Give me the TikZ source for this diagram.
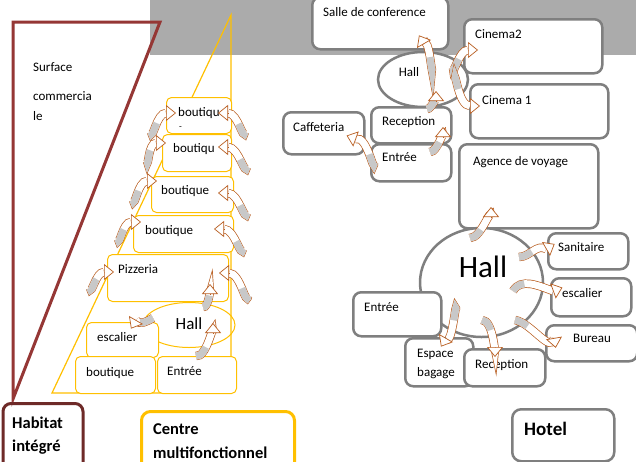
\documentclass[tikz,border=0pt]{standalone}
\usepackage{fontspec}
\setmainfont{Carlito}
\usetikzlibrary{arrows.meta,shapes.geometric}
\definecolor{ylw}{HTML}{FFC000}
\definecolor{dred}{HTML}{953735}
\definecolor{dredbox}{HTML}{6E2A28}
\definecolor{gbord}{HTML}{7F7F7F}
\definecolor{brn}{HTML}{B85C1E}
\definecolor{agray}{HTML}{C8C8C8}
\definecolor{band}{HTML}{ABABAB}
\tikzset{
  f13/.style={font=\fontsize{13}{16}\selectfont},
  lbl/.style={f13, inner sep=0pt, anchor=base west},
  ybox/.style={draw=ylw, line width=1pt, fill=white, rounded corners=5pt, anchor=north west, inner sep=0pt},
  gbox/.style={draw=gbord, line width=2.5pt, fill=white, rounded corners=8pt, anchor=north west, inner sep=0pt},
  arshaft/.style={draw=brn, line width=0.7pt, double=white, double distance=7pt},
  argray/.style={draw=agray, line width=7pt, dash pattern=on 14pt off 400pt},
  arhead/.style={draw=brn, line width=0.7pt, -{Triangle[width=16pt,length=10pt,fill=white]}},
}
\newcommand\carr[5]{%
  \coordinate (#1t) at #2;
  \coordinate (#1h) at #5;
  \draw[arshaft] (#1t) to[out=#3,in=#4] (#1h);
  \draw[argray] (#1t) to[out=#3,in=#4] (#1h);
  \draw[arhead] (#1h) -- ++({#4+180}:10);
}
\begin{document}
\begin{tikzpicture}[x=1pt,y=-1pt]
\useasboundingbox (0,0) rectangle (636,461);
\fill[white] (0,0) rectangle (636,461);
\fill[band] (150,0) rectangle (636,55);

% ---------- Habitat integre ----------
\draw[dred, line width=3pt, line join=miter] (13,22) -- (160,22) -- (13,399) -- cycle;
\node[draw=dredbox, line width=3pt, rounded corners=8pt, anchor=north west, inner sep=0pt,
      minimum width=80pt, minimum height=70pt] (hab) at (1.5,402) {};
\node[lbl] (tsurf) at (33,71) {Surface};
\node[lbl] (tcom) at (33,100) {commercia};
\node[lbl] (tle) at (33,120) {le};

% ---------- Centre multifonctionnel ----------
\draw[ylw, line width=1.2pt] (231,15) -- (52,393) -- (231,393) -- cycle;
\node[ybox, minimum width=65pt, minimum height=36pt] (bq1) at (166,97) {};
\node[ybox, minimum width=69pt, minimum height=37pt] (bq2) at (162,134) {};
\node[ybox, minimum width=82pt, minimum height=36pt] (bq3) at (151,176) {};
\node[ybox, minimum width=100pt, minimum height=37pt] (bq4) at (133,215) {};
\node[ybox, minimum width=121pt, minimum height=47pt] (piz) at (107,254) {};
\node[ellipse, draw=ylw, line width=1pt, minimum width=92pt, minimum height=45pt, inner sep=0pt] (hallL) at (189,325) {};
\node[ybox, minimum width=72pt, minimum height=35pt] (esc) at (86,322) {};
\node[ybox, minimum width=80pt, minimum height=37pt] (bqb) at (75,356) {};
\node[ybox, minimum width=79pt, minimum height=37pt] (entL) at (157,356) {};

\node[lbl] (tbq1) at (178,116) {boutiqu};
\node[lbl, font=\fontsize{9}{10}\selectfont] (tbq1b) at (179,129) {-};
\node[lbl] (tbq2) at (173,152) {boutiqu};
\node[lbl] (tbq3) at (161,194) {boutique};
\node[lbl] (tbq4) at (145,234) {boutique};
\node[lbl] (tpiz) at (118,273) {Pizzeria};
\node[font=\fontsize{17}{20}\selectfont, inner sep=0pt] (thallL) at (189,324) {Hall};
\node[lbl] (tesc) at (97,341) {escalier};
\node[lbl] (tbqb) at (86,376) {boutique};
\node[lbl] (tentL) at (167,375) {Entrée};

% ---------- Hotel ----------
\node[gbox, minimum width=136pt, minimum height=52pt] (salle) at (311,-4) {};
\node[gbox, minimum width=138pt, minimum height=54pt] (cin2) at (463,18) {};
\node[ellipse, draw=gbord, line width=2.5pt, fill=white, minimum width=90pt, minimum height=55pt, inner sep=0pt] (hallS) at (423,79.5) {};
\node[gbox, minimum width=138pt, minimum height=54pt] (cin1) at (469,83) {};
\node[gbox, minimum width=80pt, minimum height=36pt] (recT) at (370,106) {};
\node[gbox, minimum width=81pt, minimum height=42pt] (caf) at (282,111) {};
\node[gbox, minimum width=80pt, minimum height=37pt] (entT) at (370,143) {};
\node[gbox, minimum width=139pt, minimum height=84pt] (agence) at (458,143) {};
\node[ellipse, draw=gbord, line width=2.5pt, fill=white, minimum width=123pt, minimum height=109pt, inner sep=0pt] (hallB) at (481.5,282.5) {};
\node[gbox, minimum width=88pt, minimum height=44pt] (entB) at (352,291) {};
\node[gbox, minimum width=80pt, minimum height=36pt] (sani) at (547,232) {};
\node[gbox, minimum width=80pt, minimum height=38pt] (escH) at (550,277) {};
\node[gbox, minimum width=91pt, minimum height=36pt] (bur) at (545,324) {};
\node[gbox, minimum width=68pt, minimum height=48pt] (esp) at (404,337) {};
\node[gbox, minimum width=81pt, minimum height=37pt] (recB) at (463,348) {};

\node[lbl] (tsalle) at (323,16) {Salle de conference};
\node[lbl] (tcin2) at (475,38) {Cinema2};
\node[f13, inner sep=0pt] (thallS) at (409,72) {Hall};
\node[lbl] (tcin1) at (482,104) {Cinema 1};
\node[lbl] (trecT) at (382,125) {Reception};
\node[lbl] (tcaf) at (293,131) {Caffeteria};
\node[lbl] (tentT) at (382,161) {Entrée};
\node[lbl] (tage) at (473,165) {Agence de voyage};
\node[font=\fontsize{31}{36}\selectfont, inner sep=0pt] (thallB) at (483,267) {Hall};
\node[lbl] (tsani) at (558,251) {Sanitaire};
\node[lbl] (tescH) at (562,297) {escalier};
\node[lbl] (tbur) at (573,342) {Bureau};
\node[lbl] (tentB) at (364,311) {Entrée};
\node[lbl] (tesp1) at (417,357) {Espace};
\node[lbl] (tesp2) at (417,376) {bagage};
\node[lbl] (trecB) at (475,368) {Reception};

% ---------- bottom titles ----------
\node[draw=ylw, line width=3pt, rounded corners=9pt, anchor=north west, inner sep=0pt,
      minimum width=153pt, minimum height=62pt] (centre) at (140,410) {};
\node[draw=gbord, line width=2.5pt, rounded corners=9pt, anchor=north west, inner sep=0pt,
      minimum width=102pt, minimum height=52pt] (hotel) at (511,408) {};
\node[font=\fontsize{16.5}{20}\selectfont\bfseries, inner sep=0pt, anchor=base west] (thab1) at (12,428) {Habitat};
\node[font=\fontsize{16.5}{20}\selectfont\bfseries, inner sep=0pt, anchor=base west] (thab2) at (12,451) {intégré};
\node[font=\fontsize{16.5}{20}\selectfont\bfseries, inner sep=0pt, anchor=base west] (tcen1) at (153,434) {Centre};
\node[font=\fontsize{16.5}{20}\selectfont\bfseries, inner sep=0pt, anchor=base west] (tcen2) at (153,458) {multifonctionnel};
\node[font=\fontsize{19}{22}\selectfont\bfseries, inner sep=0pt, anchor=base west] (thot) at (524,435) {Hotel};

% ---------- curved arrows, left ----------
\carr{a1}{(151,132)}{-80}{180}{(166,113)}
\carr{a2}{(245,132)}{-100}{0}{(228,113)}
\carr{a3}{(147,161)}{-80}{180}{(156,143)}
\carr{a4}{(247,167)}{-100}{0}{(228,147)}
\carr{a5}{(133,200)}{-80}{180}{(147,181)}
\carr{a6}{(247,213)}{-100}{0}{(228,193)}
\carr{a7}{(118,239)}{-80}{180}{(131,222)}
\carr{a8}{(243,249)}{-100}{0}{(224,229)}
\carr{a9}{(90,288)}{-80}{180}{(104,272)}
\carr{a10}{(248,296)}{-100}{0}{(229,273)}
\carr{a11}{(203,307)}{-10}{90}{(210,294)}
\carr{a12}{(153,318)}{-150}{-60}{(136,320)}
\carr{a13}{(196,356)}{-10}{90}{(213,333)}

% ---------- curved arrows, hotel ----------
\carr{b1}{(432,68)}{-90}{60}{(424,44)}
\carr{b2}{(453,68)}{-90}{180}{(468,50)}
\carr{b3}{(455,80)}{90}{180}{(470,106)}
\carr{b4}{(427,109)}{0}{90}{(436,101)}
\carr{b5}{(430,152)}{0}{90}{(443,137)}
\carr{b6}{(374,163)}{-90}{20}{(356,139)}
\carr{c1}{(470,238)}{0}{90}{(491,217)}
\carr{c2}{(519,257)}{0}{150}{(546,249)}
\carr{c3}{(513,291)}{60}{160}{(553,291)}
\carr{c4}{(515,320)}{-10}{-100}{(554,338)}
\carr{c5}{(482,320)}{0}{-90}{(495,347)}
\carr{c6}{(456,310)}{90}{-60}{(446,338)}
\end{tikzpicture}
\end{document}
